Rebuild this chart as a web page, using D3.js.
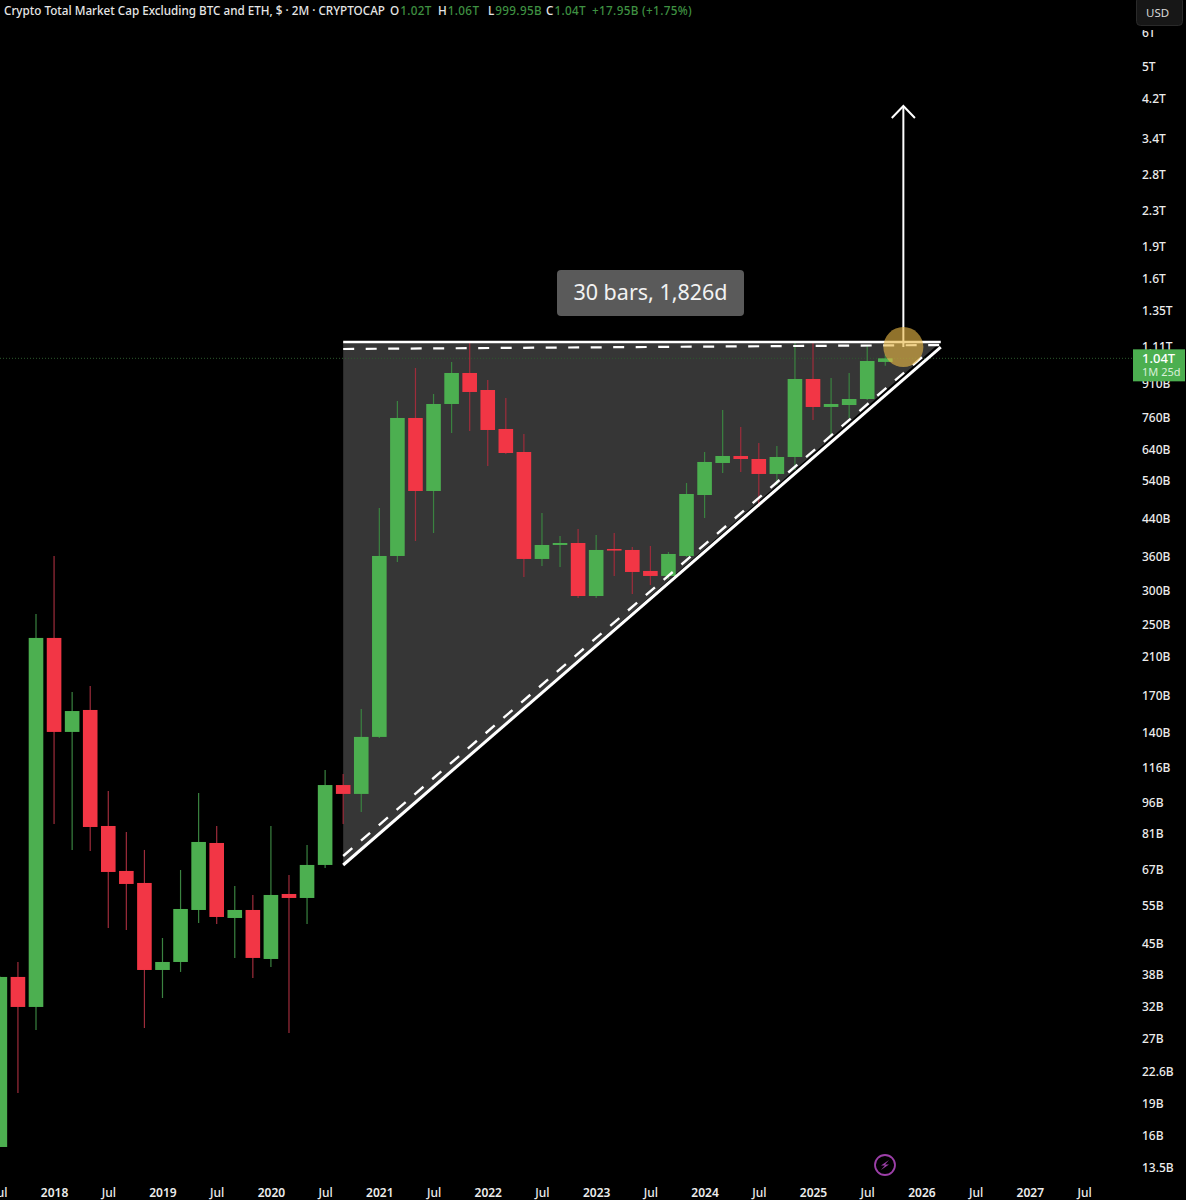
<!DOCTYPE html>
<html>
<head>
<meta charset="utf-8">
<style>
html,body{margin:0;padding:0;background:#000;}
svg{display:block;}
text{font-family:"Noto Sans",sans-serif;}
</style>
<script src="https://d3js.org/d3.v7.min.js"></script>
</head>
<body>
<svg id="chart" width="1186" height="1200"></svg>
<script>
const periods = ["2017-07","2017-09","2017-11","2018-01","2018-03","2018-05","2018-07","2018-09","2018-11","2019-01","2019-03","2019-05","2019-07","2019-09","2019-11","2020-01","2020-03","2020-05","2020-07","2020-09","2020-11","2021-01","2021-03","2021-05","2021-07","2021-09","2021-11","2022-01","2022-03","2022-05","2022-07","2022-09","2022-11","2023-01","2023-03","2023-05","2023-07","2023-09","2023-11","2024-01","2024-03","2024-05","2024-07","2024-09","2024-11","2025-01","2025-03","2025-05","2025-07","2025-09","2025-11","2026-01","2026-03","2026-05","2026-07","2026-09","2026-11","2027-01","2027-03","2027-05","2027-07"];
// OHLC in billions of USD, one entry per two-month bar
const opens  = [15.04,37.49,31.91,231.6,139.8,157.3,84.35,66.25,62.11,38.92,40.63,53.72,76.99,51.46,53.72,41.29,58.54,57.30,68.42,105.1,100.2,136.1,359.7,754.9,510.0,813.8,961.3,877.3,711.6,628.8,354.0,381.6,385.7,290.1,373.5,371.5,331.9,323.1,359.7,499.1,592.8,615.5,605.6,558.8,612.2,930.8,800.8,809.4,835.9,1020];
const highs  = [37.6,40.63,263.4,359.7,173.2,178.9,101.8,81.67,74.16,46.22,66.60,100.7,84.35,61.12,58.23,84.35,64.84,76.17,113.9,111.5,158.1,465.5,827.0,987.4,858.7,1019.8,1129.3,925.8,840.4,692.7,453.1,400.5,415.8,402.7,407.0,377.5,379.6,367.5,532.4,628.8,788.0,719.2,660.0,649.4,1141.5,1129.3,935.8,961.3,1117.2,1060];
const lows   = [15.04,20.11,28.20,85.26,74.16,73.76,48.77,48.25,28.50,33.48,38.51,50.10,49.83,41.52,37.29,39.56,27.75,49.83,67.32,85.26,90.93,135.3,348.3,389.9,407.0,696.5,704.0,583.3,622.1,321.4,340.9,339.1,287.0,287.0,323.1,293.3,307.8,317.9,357.8,441.1,561.8,564.8,468.0,526.7,570.9,746.8,681.6,754.9,831.4,999.95];
const closes = [37.49,31.91,231.6,139.8,156.4,83.90,65.89,61.78,38.92,40.63,54.01,77.41,51.74,53.72,41.52,58.23,57.30,68.42,105.1,100.2,136.1,359.7,754.9,510.0,813.8,961.3,868.0,707.7,625.5,354.0,381.6,385.7,290.1,371.5,371.5,330.1,323.1,363.6,501.8,596.0,615.5,605.6,558.8,612.2,930.8,800.8,813.8,835.9,1025.3,1040];

const priceTicks = [6000,5000,4200,3400,2800,2300,1900,1600,1350,1110,910,760,640,540,440,360,300,250,210,170,140,116,96,81,67,55,45,38,32,27,22.6,19,16,13.5];
const priceLabels = ["6T","5T","4.2T","3.4T","2.8T","2.3T","1.9T","1.6T","1.35T","1.11T","910B","760B","640B","540B","440B","360B","300B","250B","210B","170B","140B","116B","96B","81B","67B","55B","45B","38B","32B","27B","22.6B","19B","16B","13.5B"];
const timeTicks = ["2017-07","2018-01","2018-07","2019-01","2019-07","2020-01","2020-07","2021-01","2021-07","2022-01","2022-07","2023-01","2023-07","2024-01","2024-07","2025-01","2025-07","2026-01","2026-07","2027-01","2027-07"];

// Triangle drawing, in bar-index / price coordinates
const triLeft = 19, triRight = 52.07, triTop = 1135, triBottom = 68.4, triApex = 1105;
const dashTopLeft = 1093.5, dashTopRight = 1117, dashBottom = 71.8, dashApex = 1070, dashApexBar = 51.3;
const arrowBar = 50, arrowBase = 1105, arrowTip = 4033, arrowWing = 3781;

const titleName = "Crypto Total Market Cap Excluding BTC and ETH, $ · 2M · CRYPTOCAP";
const ohlcKeys = ["O","H","L","C",""];
const ohlcValues = ["1.02T","1.06T","999.95B","1.04T","+17.95B (+1.75%)"];
const ohlcStarts = [390,438,488,546,592];

const UP = "#4caf50", DOWN = "#f23645";
const svg = d3.select("#chart");
const x = d3.scaleLinear().domain([0, periods.length - 1]).range([-0.14, 1084.06]);
const y = d3.scaleLog().domain([5000, 13.58]).range([66, 1166]);
const bodyW = 14.6;

svg.append("rect").attr("width",1186).attr("height",1200).attr("fill","#000");

// triangle fill
svg.append("path")
  .attr("d", d3.line()([[x(triLeft),y(triTop)],[x(triLeft),y(triBottom)],[x(triRight),y(triTop)]]))
  .attr("fill","#363636");

// last price line
const lastClose = closes[closes.length-1];
svg.append("line").attr("x1",0).attr("x2",1133).attr("y1",y(lastClose)).attr("y2",y(lastClose))
  .attr("stroke","#2b5a2d").attr("stroke-width",1).attr("stroke-dasharray","1 2");

// candles
const bars = opens.map((o,i)=>({i,o,h:highs[i],l:lows[i],c:closes[i]}));
const g = svg.append("g");
g.selectAll("line.wick").data(bars).join("line").attr("class","wick")
  .attr("x1",d=>x(d.i)).attr("x2",d=>x(d.i)).attr("y1",d=>y(d.h)).attr("y2",d=>y(d.l))
  .attr("stroke",d=>d.c>=d.o?"#3a8340":"#9e2c3b").attr("stroke-width",1.2);
g.selectAll("rect.body").data(bars).join("rect").attr("class","body")
  .attr("x",d=>x(d.i)-bodyW/2).attr("width",bodyW)
  .attr("y",d=>y(Math.max(d.o,d.c)))
  .attr("height",d=>Math.max(1.6,Math.abs(y(d.o)-y(d.c))))
  .attr("fill",d=>d.c>=d.o?UP:DOWN);

// triangle lines
const ann = svg.append("g").attr("fill","none").attr("stroke","#fff");
const seg = (a,b,c,d,w,dash)=>ann.append("line").attr("x1",x(a)).attr("y1",y(b)).attr("x2",x(c)).attr("y2",y(d)).attr("stroke-width",w).attr("stroke-dasharray",dash||null);
seg(triLeft,triTop,triRight,triTop,2.6);
seg(triLeft,triBottom,triRight,triApex,3);
seg(triLeft,dashTopLeft,triRight,dashTopRight,2.2,"11 11.5");
seg(triLeft,dashBottom,dashApexBar,dashApex,2.4,"12 11.5");
// arrow
seg(arrowBar,arrowBase,arrowBar,arrowTip,2);
ann.append("path").attr("stroke-width",2)
  .attr("d",d3.line()([[x(arrowBar-0.64),y(arrowWing)],[x(arrowBar),y(arrowTip)],[x(arrowBar+0.64),y(arrowWing)]]));

// highlight circle
svg.append("circle").attr("cx",x(arrowBar)).attr("cy",y(arrowBase)).attr("r",20)
  .attr("fill","rgba(232,184,70,0.62)");

// measure label
const lab = svg.append("g");
lab.append("rect").attr("x",557).attr("y",270).attr("width",187).attr("height",46).attr("rx",4).attr("fill","#5a5a5a");
lab.append("text").attr("x",650.5).attr("y",300).attr("text-anchor","middle").attr("fill","#f2f2f2").attr("font-size",21.5).text("30 bars, 1,826d");

// price axis
const yAxis = d3.axisRight(y).tickValues(priceTicks).tickSize(0).tickPadding(0)
  .tickFormat(v=>priceLabels[priceTicks.indexOf(v)]);
const ya = svg.append("g").attr("transform","translate(1142,0.5)").call(yAxis);
ya.select(".domain").remove();
ya.selectAll("text").attr("fill","#ececec").attr("font-size",12).attr("font-weight",500).attr("font-family","'Noto Sans',sans-serif");

// time axis
const xAxis = d3.axisBottom(x).tickValues(timeTicks.map(t=>periods.indexOf(t))).tickSize(0).tickPadding(0)
  .tickFormat(i=>{const [yr,m]=periods[i].split("-");return m==="07"?"Jul":yr;});
const xa = svg.append("g").attr("transform","translate(0,1188)").call(xAxis);
xa.select(".domain").remove();
xa.selectAll("text").attr("fill","#ececec").attr("font-size",12).attr("font-family","'Noto Sans',sans-serif")
  .attr("font-weight",(i)=>periods[i].endsWith("-07")?500:600);

// USD button
svg.append("rect").attr("x",1130).attr("y",0).attr("width",56).attr("height",30).attr("fill","#000");
svg.append("rect").attr("x",1136.5).attr("y",-3).attr("width",46).attr("height",28.5).attr("rx",4).attr("fill","#171717").attr("stroke","#2a2a2a");
svg.append("text").attr("x",1146).attr("y",17).attr("fill","#d8d8d8").attr("font-size",11.5).text("USD");

// last price tag
const tagY = y(lastClose);
svg.append("rect").attr("x",1133).attr("y",tagY-9).attr("width",52).attr("height",32).attr("fill",UP);
svg.append("text").attr("x",1142).attr("y",tagY+4.5).attr("fill","#fff").attr("font-size",13).attr("font-weight",500).text("1.04T");
svg.append("text").attr("x",1142).attr("y",tagY+18).attr("fill","#d9f0da").attr("font-size",11).text("1M 25d");

// title
const title = svg.append("g").attr("font-size",11.7).attr("font-weight",500);
title.append("text").attr("x",4).attr("y",15).attr("fill","#e6e6e6").text(titleName);
ohlcValues.forEach((v,k)=>{
  const t = title.append("text").attr("x",ohlcStarts[k]).attr("y",15);
  t.append("tspan").attr("fill","#e6e6e6").text(ohlcKeys[k]);
  t.append("tspan").attr("fill","#3f9142").attr("dx",k<4?1:0).attr("letter-spacing",0.35).text(v);
});

// lightning icon
const icon = svg.append("g").attr("transform","translate(885,1165)");
icon.append("circle").attr("r",10).attr("fill","none").attr("stroke","#9c3fa8").attr("stroke-width",1.8);
icon.append("path").attr("d","M4,-5 L-4,0.5 L0,0.5 L-4,5 L4,-0.5 L0,-0.5 Z").attr("fill","#9c3fa8");
</script>
</body>
</html>
